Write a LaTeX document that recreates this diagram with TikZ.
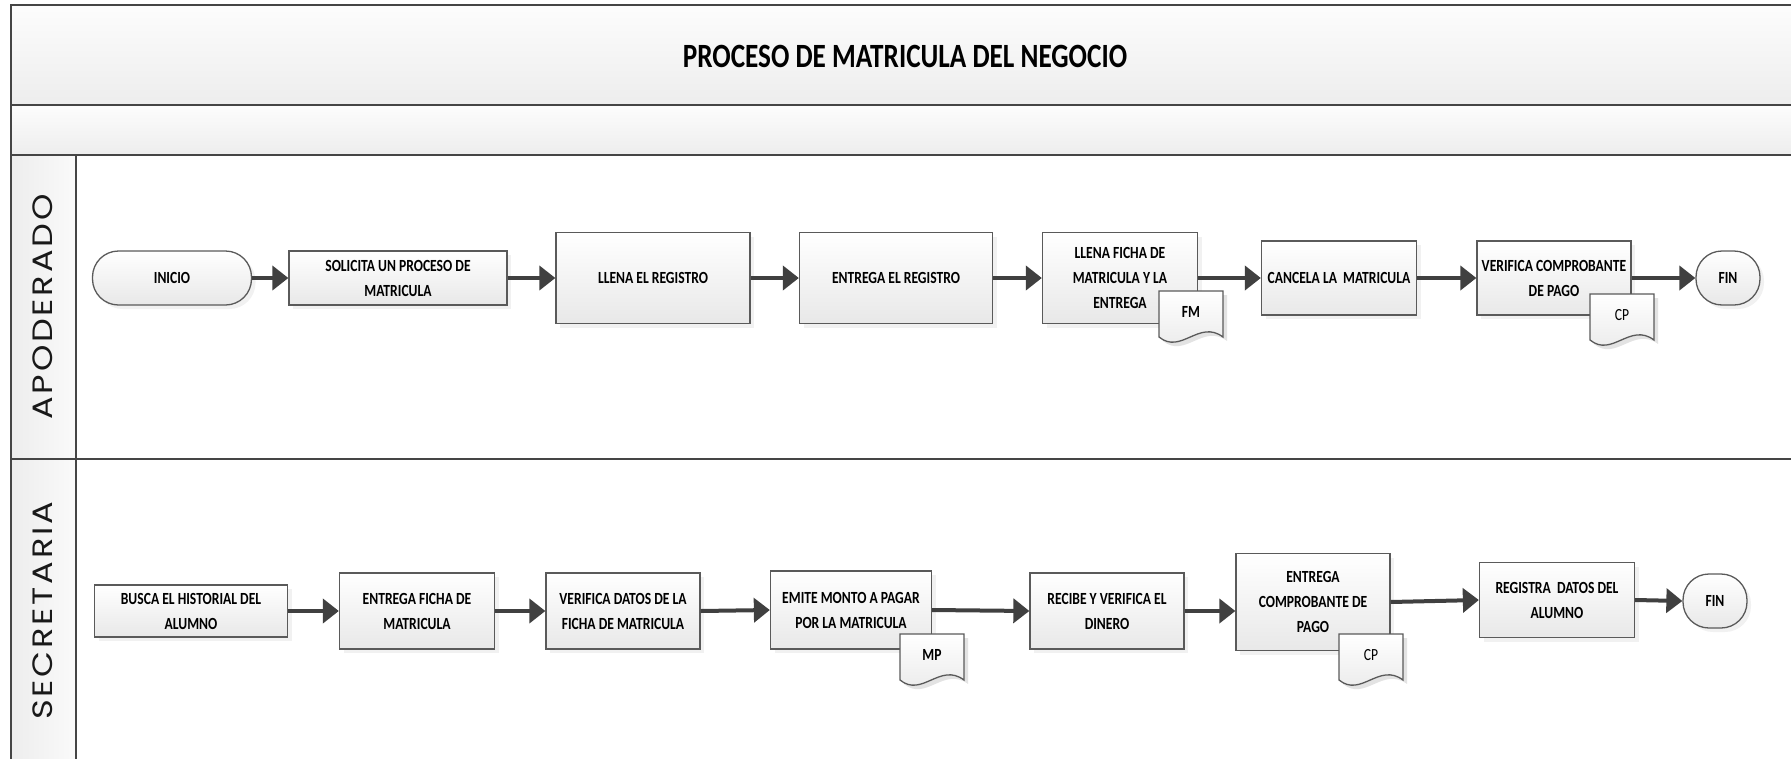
\documentclass[tikz,border=0pt]{standalone}
\usepackage{fontspec}
\setmainfont{Carlito}
\newfontfamily\boxfont[FakeStretch=0.8]{Carlito}
\newfontfamily\lanefont[FakeStretch=1.2, LetterSpace=10]{Poppins}
\usetikzlibrary{arrows.meta, shadows}
\definecolor{lanegray}{HTML}{454545}
\definecolor{boxline}{HTML}{5A5A5A}
\definecolor{flowgray}{HTML}{404040}

\tikzset{
  proc/.style={draw=boxline, line width=1.3pt, top color=white, bottom color=black!9,
    drop shadow={shadow xshift=4pt, shadow yshift=-4pt, fill=black!11},
    font=\boxfont\bfseries\fontsize{17}{25}\selectfont, align=center, inner sep=1pt},
  term/.style={proc, rounded corners=26pt},
  flow/.style={draw=flowgray, line width=4pt, -{Triangle[length=16pt, width=24pt]}},
  lanerule/.style={draw=lanegray, line width=2.6pt},
  doclabel/.style={font=\boxfont\fontsize{17}{17}\selectfont, inner sep=0pt},
}

% document symbol, top-left corner at (#1,#2)
\newcommand{\docshape}[2]{%
  \fill[black!11] ({#1+4},{#2+4}) -- ({#1+68},{#2+4}) -- ({#1+68},{#2+50})
    .. controls ({#1+44},{#2+32}) and ({#1+26},{#2+68}) .. ({#1+4},{#2+50}) -- cycle;
  \draw[draw=boxline, line width=1.3pt, top color=white, bottom color=black!9]
    (#1,#2) -- ({#1+64},#2) -- ({#1+64},{#2+46})
    .. controls ({#1+40},{#2+28}) and ({#1+22},{#2+64}) .. (#1,{#2+46}) -- cycle;}

\begin{document}
\begin{tikzpicture}[x=1pt, y=-1pt]
  \useasboundingbox (0,0) rectangle (1791,758);
  % pool and lanes
  \shade[top color=black!1, bottom color=black!7] (11,5) rectangle (1800,105);
  \shade[top color=black!1, bottom color=black!7] (11,105) rectangle (1800,155);
  \shade[left color=black!7, right color=black!2] (11,155) rectangle (76,770);
  \draw[lanerule] (1800,5) -- (11,5) -- (11,770);
  \draw[lanerule] (11,105) -- (1800,105);
  \draw[lanerule] (11,155) -- (1800,155);
  \draw[lanerule] (11,459) -- (1800,459);
  \draw[lanerule] (76,155) -- (76,770);

  \node[font=\boxfont\bfseries\fontsize{34}{40}\selectfont] (titulo) at (905,56) {PROCESO DE MATRICULA DEL NEGOCIO};
  \node[rotate=90, font=\lanefont\fontsize{28}{28}\selectfont, text=black!90] (apoderado) at (43,307) {APODERADO};
  \node[rotate=90, font=\lanefont\fontsize{28}{28}\selectfont, text=black!90] (secretaria) at (43,611) {SECRETARIA};

  % lane 1
  \node[term, minimum width=159, minimum height=54] (inicio) at (172,278) {INICIO};
  \node[proc, minimum width=218, minimum height=54] (solicita) at (398,278) {SOLICITA UN PROCESO DE\\MATRICULA};
  \node[proc, minimum width=194, minimum height=91] (llena) at (653,278) {LLENA EL REGISTRO};
  \node[proc, minimum width=193, minimum height=91] (entregareg) at (896,278) {ENTREGA EL REGISTRO};
  \node[proc, minimum width=155, minimum height=91] (llenaficha) at (1120,278) {LLENA FICHA DE\\MATRICULA Y LA\\ENTREGA};
  \node[proc, minimum width=155, minimum height=74] (cancela) at (1339,278) {CANCELA LA\ \ MATRICULA};
  \node[proc, minimum width=154, minimum height=74] (verifica) at (1554,278) {VERIFICA COMPROBANTE\\DE PAGO};
  \node[term, minimum width=64, minimum height=54] (fin1) at (1728,278) {FIN};
  \docshape{1159}{291}
  \node[doclabel, font=\boxfont\bfseries\fontsize{17}{17}\selectfont] (fm) at (1191,312) {FM};
  \docshape{1590}{294}
  \node[doclabel] (cp1) at (1622,315) {CP};

  % lane 2
  \node[proc, minimum width=193, minimum height=52] (busca) at (191,611) {BUSCA EL HISTORIAL DEL\\ALUMNO};
  \node[proc, minimum width=155, minimum height=76] (entregaficha) at (417,611) {ENTREGA FICHA DE\\MATRICULA};
  \node[proc, minimum width=154, minimum height=76] (verdatos) at (623,611) {VERIFICA DATOS DE LA\\FICHA DE MATRICULA};
  \node[proc, minimum width=161, minimum height=78] (emite) at (851,610) {EMITE MONTO A PAGAR\\POR LA MATRICULA};
  \node[proc, minimum width=154, minimum height=76] (recibe) at (1107,611) {RECIBE Y VERIFICA EL\\DINERO};
  \node[proc, minimum width=154, minimum height=97] (entregacp) at (1313,602) {ENTREGA\\COMPROBANTE DE\\PAGO};
  \node[proc, minimum width=155, minimum height=75] (registra) at (1557,600) {REGISTRA\ \ DATOS DEL\\ALUMNO};
  \node[term, minimum width=64, minimum height=54] (fin2) at (1715,601) {FIN};
  \docshape{900}{634}
  \node[doclabel, font=\boxfont\bfseries\fontsize{17}{17}\selectfont] (mp) at (932,655) {MP};
  \docshape{1339}{634}
  \node[doclabel] (cp2) at (1371,655) {CP};

  % flow
  \draw[flow] (inicio.east) -- (solicita.west);
  \draw[flow] (solicita.east) -- (llena.west);
  \draw[flow] (llena.east) -- (entregareg.west);
  \draw[flow] (entregareg.east) -- (llenaficha.west);
  \draw[flow] (llenaficha.east) -- (cancela.west);
  \draw[flow] (cancela.east) -- (verifica.west);
  \draw[flow] (verifica.east) -- (fin1.west);
  \draw[flow] (busca.east) -- (entregaficha.west);
  \draw[flow] (entregaficha.east) -- (verdatos.west);
  \draw[flow] (verdatos.east) -- (emite.west);
  \draw[flow] (emite.east) -- (recibe.west);
  \draw[flow] (recibe.east) -- (recibe.east -| entregacp.west);
  \draw[flow] (entregacp.east) -- (registra.west);
  \draw[flow] (registra.east) -- (fin2.west);
\end{tikzpicture}
\end{document}
